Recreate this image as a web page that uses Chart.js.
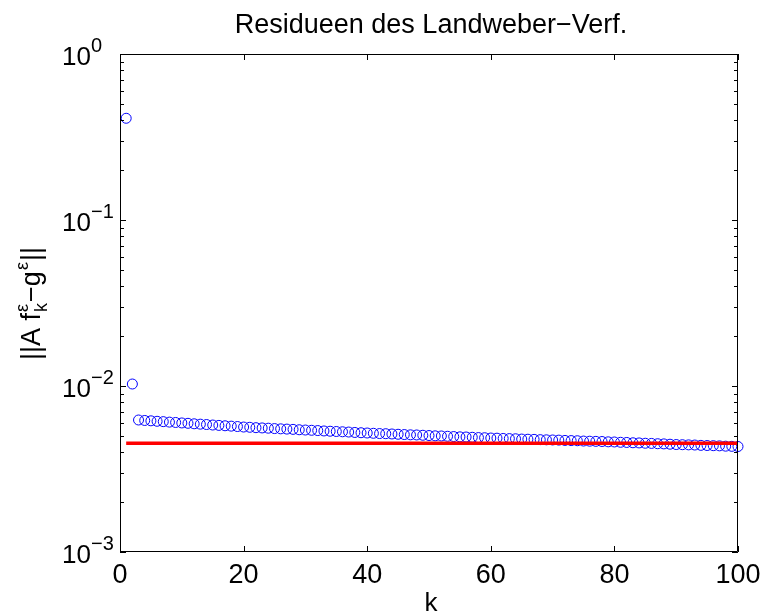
<!DOCTYPE html>
<html>
<head>
<meta charset="utf-8">
<title>Residueen</title>
<script src="https://cdn.jsdelivr.net/npm/chart.js@4/dist/chart.umd.min.js"></script>
<style>
  html, body { margin: 0; padding: 0; background: #ffffff; }
  #residChart { display: block; }
</style>
</head>
<body>
<canvas id="residChart" width="765" height="614"></canvas>
<script>
// residual norms ||A f_k - g|| for k = 1..100
var residuals = [
  0.410, 0.01028,
  0.00624, 0.00620, 0.00617, 0.00613, 0.00610, 0.00606, 0.00603, 0.00599,
  0.00596, 0.00592, 0.00589, 0.00586, 0.00582, 0.00579, 0.00576, 0.00573,
  0.00570, 0.00566, 0.00564, 0.00561, 0.00559, 0.00557, 0.00554, 0.00552,
  0.00550, 0.00548, 0.00545, 0.00543, 0.00541, 0.00539, 0.00536, 0.00534,
  0.00532, 0.00530, 0.00528, 0.00525, 0.00523, 0.00521, 0.00519, 0.00517,
  0.00516, 0.00514, 0.00512, 0.00510, 0.00508, 0.00507, 0.00505, 0.00503,
  0.00501, 0.00500, 0.00498, 0.00496, 0.00494, 0.00493, 0.00491, 0.00489,
  0.00488, 0.00486, 0.00485, 0.00483, 0.00482, 0.00481, 0.00479, 0.00478,
  0.00477, 0.00475, 0.00474, 0.00473, 0.00472, 0.00470, 0.00469, 0.00468,
  0.00466, 0.00465, 0.00464, 0.00463, 0.00461, 0.00460, 0.00458, 0.00457,
  0.00455, 0.00454, 0.00452, 0.00451, 0.00449, 0.00448, 0.00446, 0.00444,
  0.00443, 0.00442, 0.00441, 0.00439, 0.00438, 0.00437, 0.00436, 0.00434,
  0.00433, 0.00432
];
// noise level (discrepancy line)
var noiseLevel = 0.00452;
var noiseRange = [1, 100];

var xTicks = [0, 20, 40, 60, 80, 100];
var yDecades = [-3, -2, -1, 0];

var chartTitle = 'Residueen des Landweber\u2212Verf.';
var xTitle = 'k';

var FONT = '"Liberation Sans", Arial, Helvetica, sans-serif';

var residPoints = residuals.map(function (r, i) { return { x: i + 1, y: r }; });
var noisePoints = noiseRange.map(function (k) { return { x: k, y: noiseLevel }; });

// box, inward ticks, labels and titles
var axesPlugin = {
  id: 'matlabAxes',
  afterDraw: function (chart) {
    var ctx = chart.ctx;
    var xs = chart.scales.x, ys = chart.scales.y;
    var a = chart.chartArea;
    ctx.save();
    ctx.strokeStyle = '#000000';
    ctx.lineWidth = 1;
    ctx.beginPath();
    ctx.rect(a.left + 0.5, a.top + 0.5, a.right - a.left - 1, a.bottom - a.top - 1);
    ctx.stroke();

    // x ticks
    ctx.beginPath();
    xTicks.forEach(function (t) {
      var px = Math.round(xs.getPixelForValue(t)) + 0.5;
      ctx.moveTo(px, a.bottom); ctx.lineTo(px, a.bottom - 6);
      ctx.moveTo(px, a.top); ctx.lineTo(px, a.top + 6);
    });
    // y ticks (log, with minors)
    yDecades.forEach(function (e) {
      for (var m = 1; m <= 9; m++) {
        if (e === 0 && m > 1) break;
        var v = m * Math.pow(10, e);
        var py = Math.round(ys.getPixelForValue(v)) + 0.5;
        var len = (m === 1) ? 6 : 4;
        ctx.moveTo(a.left, py); ctx.lineTo(a.left + len, py);
        ctx.moveTo(a.right, py); ctx.lineTo(a.right - len, py);
      }
    });
    ctx.stroke();

    ctx.fillStyle = '#000000';
    // x tick labels
    ctx.font = '27px ' + FONT;
    ctx.textAlign = 'center';
    ctx.textBaseline = 'alphabetic';
    xTicks.forEach(function (t) {
      ctx.fillText(String(t), xs.getPixelForValue(t), a.bottom + 31);
    });

    // y tick labels 10^e
    yDecades.forEach(function (e) {
      var py = ys.getPixelForValue(Math.pow(10, e));
      ctx.font = '26px ' + FONT;
      ctx.textAlign = 'right';
      ctx.fillText('10', a.left - 29, py + 11);
      ctx.font = '20px ' + FONT;
      ctx.textAlign = 'left';
      ctx.fillText(e === 0 ? '0' : '\u2212' + (-e), a.left - 29, py - 2);
    });

    // x title
    ctx.font = '26px ' + FONT;
    ctx.textAlign = 'center';
    ctx.fillText(xTitle, (a.left + a.right) / 2 + 2, a.bottom + 59);

    // title
    ctx.font = '27px ' + FONT;
    ctx.fillText(chartTitle, (a.left + a.right) / 2 + 2, 33);

    // y title ||A f_k^eps - g^eps||, rotated
    ctx.translate(40, (a.top + a.bottom) / 2);
    ctx.rotate(-Math.PI / 2);
    ctx.textAlign = 'left';
    var big = '27px ' + FONT, small = '18px ' + FONT;
    var parts = [
      { t: '||A f', f: big, dy: 0 },
      { t: '\u03b5', f: small, dy: -12, stackWith: { t: 'k', f: small, dy: 7 } },
      { t: '\u2212g', f: big, dy: 0 },
      { t: '\u03b5', f: small, dy: -12 },
      { t: '||', f: big, dy: 0 }
    ];
    var total = 0;
    parts.forEach(function (p) {
      ctx.font = p.f;
      var w = ctx.measureText(p.t).width;
      if (p.stackWith) {
        ctx.font = p.stackWith.f;
        w = Math.max(w, ctx.measureText(p.stackWith.t).width);
      }
      p.w = w + 1;
      total += p.w;
    });
    var cx = -total / 2;
    parts.forEach(function (p) {
      ctx.font = p.f;
      ctx.fillText(p.t, cx, p.dy);
      if (p.stackWith) {
        ctx.font = p.stackWith.f;
        ctx.fillText(p.stackWith.t, cx, p.stackWith.dy);
      }
      cx += p.w;
    });
    ctx.restore();
  }
};

var ctx = document.getElementById('residChart').getContext('2d');
var residChart = new Chart(ctx, {
  type: 'scatter',
  data: {
    datasets: [
      {
        label: 'noise',
        data: noisePoints,
        showLine: true,
        borderColor: '#ff0000',
        borderWidth: 3.5,
        pointRadius: 0,
        fill: false,
        order: 0
      },
      {
        label: 'residual',
        data: residPoints,
        showLine: false,
        pointStyle: 'circle',
        pointRadius: 5,
        pointBorderWidth: 1,
        pointBorderColor: '#0000ff',
        pointBackgroundColor: 'rgba(0,0,0,0)',
        clip: false,
        order: 1
      }
    ]
  },
  options: {
    responsive: false,
    animation: false,
    devicePixelRatio: 1,
    layout: { padding: { left: 120, right: 27, top: 54, bottom: 62 } },
    plugins: {
      legend: { display: false },
      tooltip: { enabled: false },
      title: { display: false }
    },
    scales: {
      x: { type: 'linear', min: 0, max: 100, display: false },
      y: { type: 'logarithmic', min: 0.001, max: 1, display: false }
    }
  },
  plugins: [axesPlugin]
});
</script>
</body>
</html>
